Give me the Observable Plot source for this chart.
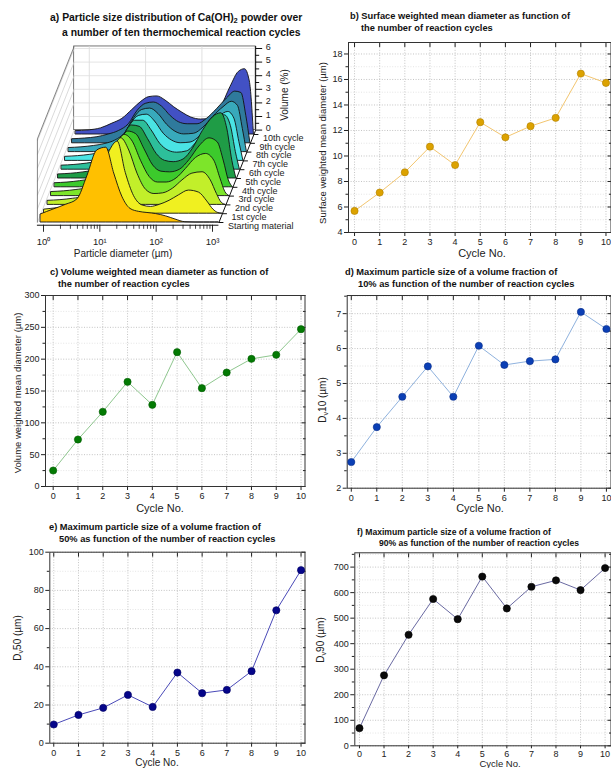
<!DOCTYPE html>
<html><head><meta charset="utf-8">
<script src="https://cdn.jsdelivr.net/npm/d3@7"></script>
<script src="https://cdn.jsdelivr.net/npm/@observablehq/plot@0.6"></script>
<style>
body{margin:0;background:#fff;}
#fig{position:relative;width:611px;height:768px;overflow:hidden;font-family:"Liberation Sans",Arial,Helvetica,sans-serif;color:#111;background:#fff;}
#fig svg{position:absolute;overflow:visible;}
.title{position:absolute;font-weight:bold;font-size:9.3px;white-space:nowrap;line-height:1;transform:translateY(-50%);color:#111;}
.ylab{position:absolute;font-size:9.5px;white-space:nowrap;line-height:1;transform:translate(-50%,-50%) rotate(-90deg);color:#222;}
.xlab{position:absolute;font-size:11px;white-space:nowrap;line-height:1;transform:translate(-50%,-50%);color:#222;}
sub{font-size:72%;vertical-align:baseline;position:relative;top:0.3em;line-height:0;}
</style></head><body><div id="fig"></div>
<script>
// ---------------- data ----------------
const cycleNo = [0,1,2,3,4,5,6,7,8,9,10];
const cycleLabels = ["Starting material","1st cycle","2nd cycle","3rd cycle","4th cycle","5th cycle","6th cycle","7th cycle","8th cycle","9th cycle","10th cycle"];

const surfaceMean = [5.69,7.13,8.72,10.73,9.29,12.65,11.46,12.34,12.99,16.46,15.73];
const volumeMean  = [25.1,73.8,117.3,164.4,128.3,211.0,154.5,179.0,200.5,206.8,247.1];
const dv10 = [2.75,3.75,4.62,5.49,4.62,6.08,5.53,5.64,5.69,7.05,6.56];
const dv50 = [9.8,14.8,18.5,25.3,19.0,37.0,26.2,27.9,37.7,69.6,90.6];
const dv90 = [69,276,435,575,496,663,538,623,648,610,696];

// particle size distributions (volume %), read at these diameters (µm)
const diameters = [0.9,1.5,2.5,4,6,9,13,18,25,35,50,70,100,150,220,330,500,700,900,1100,1300];
const volStart = [0.6,0.95,1.3,1.7,3.4,5.3,5.5,3.6,1.9,1.0,0.78,0.7,0.62,0.45,0.22,0.02,0,0,0,0,0];
const vol1  = [0.3,0.4,0.5,0.7,1.2,2.8,4.6,5.3,3.0,1.3,0.6,0.5,0.65,0.95,1.35,1.7,1.55,0.9,0.3,0.05,0];
const vol2  = [0.3,0.35,0.45,0.6,1.0,2.2,4.0,4.9,4.0,2.3,1.1,0.8,0.85,1.2,1.8,2.3,2.4,1.8,0.8,0.15,0];
const vol3  = [0.3,0.35,0.45,0.6,0.95,2.0,3.7,4.5,4.0,2.6,1.4,1.0,1.0,1.3,2.0,2.8,3.1,2.6,1.3,0.3,0];
const vol4  = [0.3,0.35,0.45,0.6,0.9,1.8,3.3,4.1,3.9,2.8,1.6,1.15,1.1,1.3,2.0,3.0,3.6,3.3,1.9,0.5,0];
const vol5  = [0.3,0.35,0.45,0.6,0.85,1.7,3.1,3.9,3.8,2.9,1.8,1.3,1.2,1.4,2.2,3.5,4.5,4.8,3.6,1.3,0];
const vol6  = [0.3,0.35,0.45,0.6,0.85,1.6,2.9,3.6,3.6,2.9,1.9,1.4,1.25,1.35,2.0,3.0,3.8,4.0,3.2,1.3,0];
const vol7  = [0.3,0.35,0.45,0.6,0.85,1.5,2.7,3.3,3.4,2.9,2.0,1.5,1.3,1.35,1.8,2.6,3.3,3.6,3.1,1.4,0];
const vol8  = [0.3,0.35,0.45,0.6,0.85,1.4,2.5,3.1,3.2,2.8,2.0,1.5,1.3,1.35,1.8,2.6,3.3,3.7,3.4,1.7,0];
const vol9  = [0.3,0.35,0.45,0.65,0.9,1.4,2.4,2.9,3.0,2.7,2.0,1.55,1.4,1.4,1.8,2.5,3.3,3.8,3.7,2.0,0];
const vol10 = [0.25,0.3,0.45,0.8,1.15,1.8,2.4,2.75,2.8,2.5,2.0,1.6,1.25,1.1,1.15,1.9,3.5,4.6,4.8,3.9,0];
const volumes = [volStart,vol1,vol2,vol3,vol4,vol5,vol6,vol7,vol8,vol9,vol10];

const volTicks = [0,1,2,3,4,5,6];
const decadeTicks = [1,10,100,1000];
const supDigits = ["⁰","¹","²","³"];

// ---------------- styles ----------------
const FONT = "'Liberation Sans', Arial, Helvetica, sans-serif";
const cycleColors = ["#ffc000","#f0f020","#c2ef2a","#7de52a","#3cca2c","#1f9c46","#2dbf9a","#4ae4e4","#38a9bb","#2f7a9c","#4251c4"];

const fig = document.getElementById("fig");
function addDiv(cls, x, y, html, extra){
  const d = document.createElement("div");
  d.className = cls; d.innerHTML = html;
  d.style.left = x + "px"; d.style.top = y + "px";
  if (extra) Object.assign(d.style, extra);
  fig.appendChild(d);
}
function placeSvg(svg, left, top){
  svg.style.left = left + "px"; svg.style.top = top + "px";
  fig.appendChild(svg);
}

// ---------------- panel a: waterfall ----------------
const PXDEC = (212 - 43) / 3;          // pixels per decade on the front plane
const stepDec = 3.5 / PXDEC;           // depth offset per cycle (decades)
const VPX = 13.6;                      // pixels per volume %
const stepVol = 8.8 / VPX;             // depth offset per cycle (volume %)
const KB = 10.5;                       // depth of back plane
const sh = k => Math.pow(10, stepDec * k);
const px = p => Math.pow(10, p / PXDEC);
const XL = 0.78, XR = 1300, VT = 6.15;
const backY = stepVol * KB;

const curveRows = volumes.flatMap((vals, k) => vals.map((v, i) => ({k, x: diameters[i] * sh(k), y1: stepVol * k, y2: stepVol * k + v})));

const marksA = [];
// back plane
marksA.push(Plot.rect([0], {x1: XL * sh(KB), x2: XR * sh(KB), y1: backY, y2: backY + VT, fill: "#fff", stroke: "#555", strokeWidth: 0.8}));
marksA.push(Plot.ruleX([1, 10, 100], {x: d => d * sh(KB) * px(9), y1: backY, y2: backY + VT, stroke: "#d8d8d8", strokeWidth: 0.8}));
marksA.push(Plot.ruleY(volTicks.slice(1), {y: v => backY + v, x1: XL * sh(KB), x2: XR * sh(KB), stroke: "#dedede", strokeWidth: 0.8}));
// left wall
marksA.push(Plot.link(volTicks, {x1: XL, y1: v => v, x2: XL * sh(KB), y2: v => backY + v, stroke: "#d0d0d0", strokeWidth: 0.8}));
marksA.push(Plot.link([0], {x1: XL, y1: 0, x2: XL, y2: VT, stroke: "#666", strokeWidth: 0.8}));
marksA.push(Plot.link([0], {x1: XL, y1: VT, x2: XL * sh(KB), y2: backY + VT, stroke: "#666", strokeWidth: 0.8}));
// curves, back to front
for (let k = volumes.length - 1; k >= 0; k--) {
  marksA.push(Plot.areaY(curveRows.filter(r => r.k === k), {x: "x", y1: "y1", y2: "y2", fill: cycleColors[k], stroke: "#111", strokeWidth: 0.9, curve: "monotone-x"}));
}
// front axis
marksA.push(Plot.ruleY([-0.2], {x1: XL, x2: XR, stroke: "#111", strokeWidth: 1}));
const logMinor = d3.range(0, 3).flatMap(e => d3.range(2, 10).map(m => m * Math.pow(10, e)));
marksA.push(Plot.ruleX(decadeTicks, {y1: -0.2, y2: -0.72, stroke: "#111", strokeWidth: 0.9}));
marksA.push(Plot.ruleX(logMinor, {y1: -0.2, y2: -0.5, stroke: "#111", strokeWidth: 0.8}));
marksA.push(Plot.text(decadeTicks, {x: d => d, y: -1.45, text: (d, i) => "10" + supDigits[i], fontSize: 9.5, fill: "#222"}));
// volume axis on back plane
const xb = XR * sh(KB);
marksA.push(Plot.ruleX([xb], {y1: backY, y2: backY + VT, stroke: "#111"}));
marksA.push(Plot.ruleY(volTicks, {y: v => backY + v, x1: xb, x2: xb * px(7), stroke: "#111"}));
marksA.push(Plot.ruleY(volTicks.slice(0, -1), {y: v => backY + v + 0.5, x1: xb, x2: xb * px(4), stroke: "#111"}));
marksA.push(Plot.text(volTicks, {x: xb * px(10), y: v => backY + v, text: d => String(d), textAnchor: "start", dy: -1.5, fontSize: 9, fill: "#222"}));
// depth axis
marksA.push(Plot.link([0], {x1: XR, y1: 0, x2: XR * sh(KB), y2: backY, stroke: "#111"}));
marksA.push(Plot.ruleY(cycleNo, {y: k => stepVol * k, x1: k => XR * sh(k), x2: k => XR * sh(k) * px(5), stroke: "#111"}));
marksA.push(Plot.text(cycleNo, {x: k => XR * sh(k) * px(9), y: k => stepVol * k, text: k => cycleLabels[k], textAnchor: "start", dy: 3.5, fontSize: 9, fill: "#222"}));

const svgA = Plot.plot({
  width: 305, height: 260,
  x: {type: "log", domain: [1, 1000], range: [43, 212], axis: null},
  y: {domain: [0, 13], range: [222, 222 - 13 * VPX], axis: null},
  style: {fontFamily: FONT, background: "transparent", overflow: "visible"},
  marks: marksA
});
placeSvg(svgA, 0, 0);

// ---------------- panels b-f ----------------
function lineChart(cfg, values) {
  const rows = cycleNo.map((c, i) => ({c, v: values[i]}));
  const gridStyle = {strokeOpacity: 1, strokeDasharray: "1,1.6", strokeWidth: 0.7};
  const xts = cfg.xTickSize ?? 4, xtp = cfg.xTickPad ?? 2;
  return Plot.plot({
    width: cfg.w, height: cfg.h,
    marginLeft: cfg.ml, marginRight: cfg.mr, marginTop: cfg.mt, marginBottom: cfg.mb,
    x: {domain: cfg.xd}, y: {domain: cfg.yd},
    style: {fontFamily: FONT, fontSize: "9px", color: "#222", background: "transparent", overflow: "visible"},
    marks: [
      Plot.gridY(cfg.minor, {stroke: "#dadada", ...gridStyle}),
      Plot.gridY(cfg.major, {stroke: "#ababab", ...gridStyle}),
      Plot.gridX(cycleNo, {stroke: "#ababab", ...gridStyle}),
      Plot.axisX(cycleNo, {tickSize: xts, tickPadding: xtp, label: null, fontSize: 9}),
      Plot.axisX(cycleNo, {anchor: "top", tickSize: -4, tickFormat: () => "", label: null}),
      Plot.axisY(cfg.major, {tickSize: 4, tickPadding: 2, label: null, fontSize: 9}),
      Plot.axisY(cfg.minor, {tickSize: 2.5, tickFormat: () => "", label: null}),
      Plot.axisY(cfg.major, {anchor: "right", tickSize: -4, tickFormat: () => "", label: null}),
      Plot.axisY(cfg.minor, {anchor: "right", tickSize: -2.5, tickFormat: () => "", label: null}),
      Plot.frame({stroke: "#333", strokeWidth: 1}),
      Plot.line(rows, {x: "c", y: "v", stroke: cfg.line, strokeWidth: 1}),
      Plot.dot(rows, {x: "c", y: "v", r: 3.6, fill: cfg.dot, stroke: cfg.edge, strokeWidth: 0.6})
    ]
  });
}

const bTicks = d3.range(4, 19, 2), bMinor = d3.range(5, 19, 2);
const cTicks = d3.range(0, 301, 50), cMinor = d3.range(25, 300, 50);
const dTicks = d3.range(2, 8, 1), dMinor = [2.5,3.5,4.5,5.5,6.5,7.5];
const eTicks = d3.range(0, 101, 20), eMinor = d3.range(10, 100, 20);
const fTicks = d3.range(0, 701, 100), fMinor = d3.range(50, 760, 100);

placeSvg(lineChart({w: 306, h: 260, ml: 43, mr: 0.5, mt: 42, mb: 28, xd: [-0.24, 10.2], yd: [4, 18.9], major: bTicks, minor: bMinor, dot: "#dca200", edge: "#b07f00", line: "#f3c670"}, surfaceMean), 305, 0);
placeSvg(lineChart({w: 305, h: 260, ml: 45, mr: 0.5, mt: 35, mb: 34, xd: [-0.31, 10.16], yd: [0, 300], major: cTicks, minor: cMinor, dot: "#037a03", edge: "#005a00", line: "#8fc78f"}, volumeMean), 0, 260);
placeSvg(lineChart({w: 306, h: 260, ml: 41.7, mr: 0.5, mt: 35, mb: 32.3, xd: [-0.16, 10.18], yd: [2, 7.52], major: dTicks, minor: dMinor, dot: "#0b3fb5", edge: "#062c88", line: "#8fb2de"}, dv10), 305, 260);
placeSvg(lineChart({w: 305, h: 248, ml: 49.3, mr: 0.5, mt: 31.7, mb: 25.3, xd: [-0.16, 10.16], yd: [0, 100], major: eTicks, minor: eMinor, dot: "#05058a", edge: "#000060", line: "#4a4ab8"}, dv50), 0, 520);
placeSvg(lineChart({w: 306, h: 248, ml: 49.3, mr: 0.5, mt: 32.3, mb: 22.7, xd: [-0.19, 10.24], yd: [0, 756], major: fTicks, minor: fMinor, dot: "#0a0a0a", edge: "#000", line: "#6a6aa2", xTickSize: 3, xTickPad: 1.5}, dv90), 305, 520);

// ---------------- titles and labels ----------------
addDiv("title", 50, 18, "a) Particle size distribution of Ca(OH)<sub>2</sub> powder over", {fontSize: "10.4px"});
addDiv("title", 62, 33, "a number of ten thermochemical reaction cycles", {fontSize: "10.4px"});
addDiv("title", 350, 17, "b) Surface weighted mean diameter as function of");
addDiv("title", 361, 29, "the number of reaction cycles");
addDiv("title", 50, 273, "c) Volume weighted mean diameter as function of");
addDiv("title", 58, 285, "the number of reaction cycles");
addDiv("title", 345, 273, "d) Maximum particle size of a volume fraction of");
addDiv("title", 358, 285, "10% as function of the number of reaction cycles");
addDiv("title", 49, 528, "e) Maximum particle size of a volume fraction of");
addDiv("title", 59, 540, "50% as function of the number of reaction cycles");
addDiv("title", 551, 532, "f) Maximum particle size of a volume fraction of", {fontSize: "8.6px", transform: "translate(-100%,-50%)"});
addDiv("title", 579, 543, "90% as function of the number of reaction cycles", {fontSize: "8.6px", transform: "translate(-100%,-50%)"});

addDiv("ylab", 285, 95, "Volume (%)", {fontSize: "10px"});
addDiv("ylab", 323, 143, "Surface weighted mean diameter (µm)");
addDiv("ylab", 18, 393, "Volume weighted mean diameter (µm)");
addDiv("ylab", 323, 400, "D<sub>v</sub>10 (µm)", {fontSize: "10px"});
addDiv("ylab", 18, 638, "D<sub>v</sub>50 (µm)", {fontSize: "10px"});
addDiv("ylab", 321, 640, "D<sub>v</sub>90 (µm)", {fontSize: "10px"});

addDiv("xlab", 123, 254, "Particle diameter (µm)", {fontSize: "10px"});
addDiv("xlab", 482, 253, "Cycle No.");
addDiv("xlab", 160, 508, "Cycle No.");
addDiv("xlab", 480, 508, "Cycle No.");
addDiv("xlab", 157, 763, "Cycle No.", {fontSize: "10px"});
addDiv("xlab", 500, 763.5, "Cycle No.", {fontSize: "9.5px"});
</script></body></html>
